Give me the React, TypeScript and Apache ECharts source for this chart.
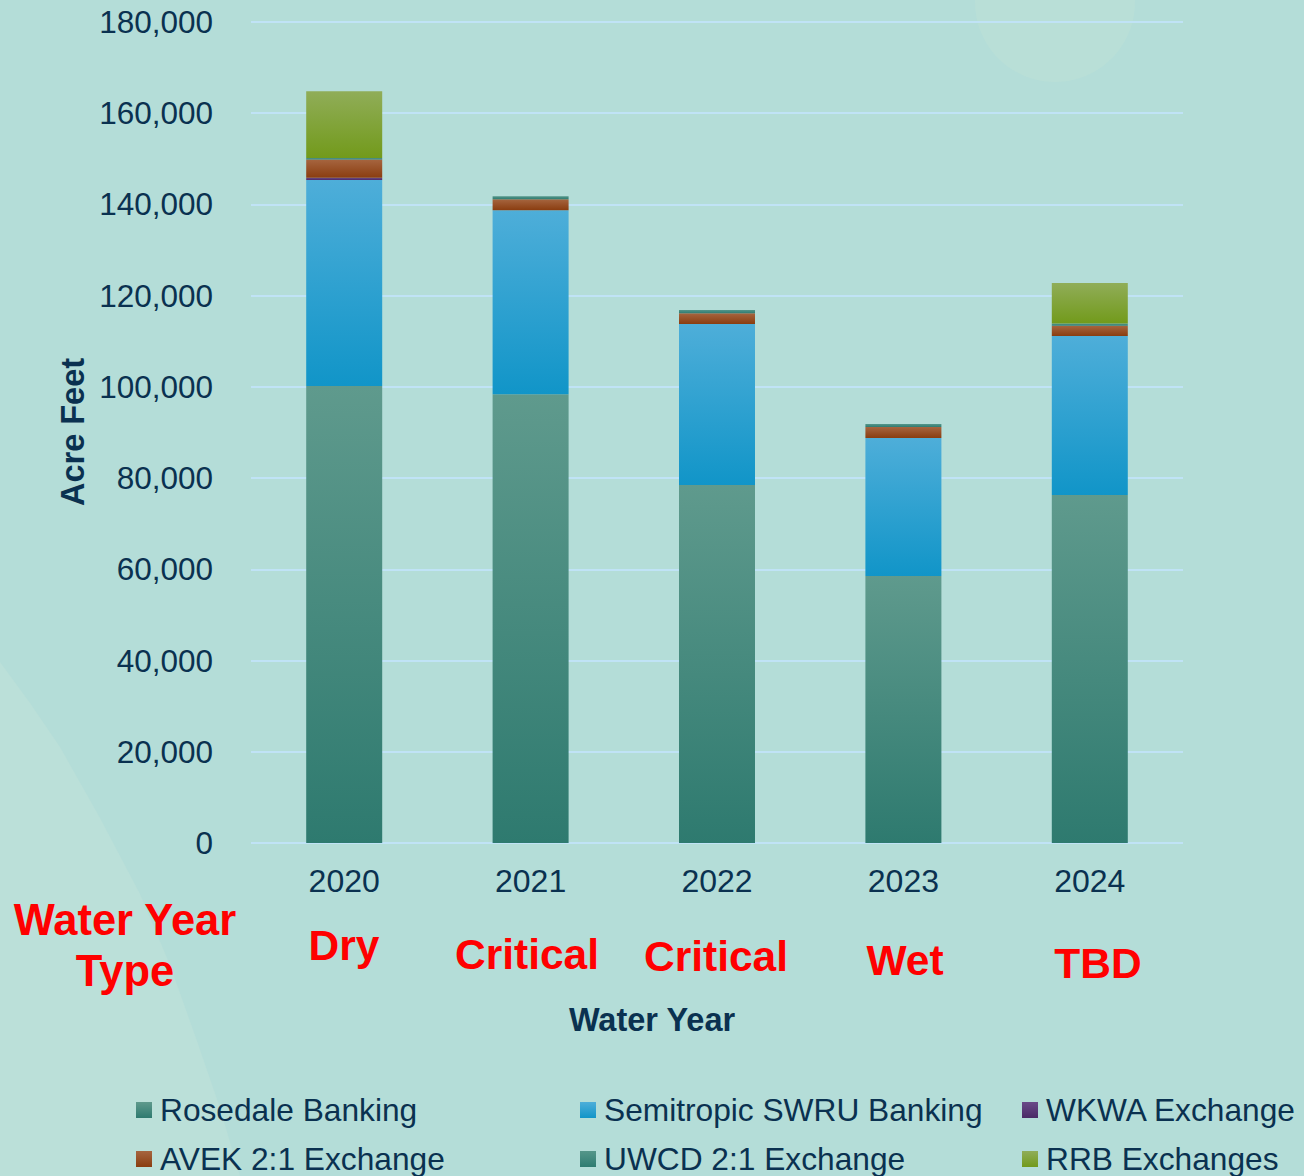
import React, { useEffect, useRef } from "react";
import * as echarts from "echarts";

// ---- Data ----
const categories = ["2020", "2021", "2022", "2023", "2024"];
const waterYearTypes = ["Dry", "Critical", "Critical", "Wet", "TBD"];
const rosedaleBanking = [100200, 98400, 78500, 58550, 76300];
const semitropicBanking = [45150, 40350, 35300, 30250, 34850];
const wkwaExchange = [500, 0, 0, 0, 0];
const avekExchange = [4000, 2400, 2350, 2400, 2250];
const uwcdExchange = [350, 650, 720, 650, 520];
const rrbExchanges = [14600, 0, 0, 0, 8850];
const seriesNames = [
  "Rosedale Banking",
  "Semitropic SWRU Banking",
  "WKWA Exchange",
  "AVEK 2:1 Exchange",
  "UWCD 2:1 Exchange",
  "RRB Exchanges",
];

// ---- Layout / style ----
const FONT = "'Liberation Sans', Arial, Helvetica, sans-serif";
const NAVY = "#0a3150";
const RED = "#ff0000";
const typeLabelPos = [
  [344, 945],
  [527, 954],
  [716, 956],
  [905, 960],
  [1098, 963.5],
];
const legendPos = [
  [136, 1094],
  [580, 1094],
  [1022, 1094],
  [136, 1143],
  [580, 1143],
  [1022, 1143],
];

const grad = (top: string, bottom: string) =>
  new echarts.graphic.LinearGradient(0, 0, 0, 1, [
    { offset: 0, color: top },
    { offset: 1, color: bottom },
  ]);

export default function App() {
  const ref = useRef<HTMLDivElement>(null);

  useEffect(() => {
    if (!ref.current) return;
    const chart = echarts.init(ref.current, undefined, { renderer: "svg" });

    const colors = [
      grad("#5f9a8d", "#2e7a6f"),
      grad("#4eaed9", "#1195c8"),
      grad("#6a4a88", "#4a2a66"),
      grad("#a6653f", "#8a3d10"),
      grad("#55968a", "#2f7c71"),
      grad("#90ad58", "#729a1b"),
    ];
    const values = [
      rosedaleBanking,
      semitropicBanking,
      wkwaExchange,
      avekExchange,
      uwcdExchange,
      rrbExchanges,
    ];

    const series = seriesNames.map((name, i) => ({
      name,
      type: "bar",
      stack: "total",
      barWidth: 76,
      data: values[i],
      itemStyle: { color: colors[i] },
      emphasis: { disabled: true },
    }));

    const legends = seriesNames.map((name, i) => ({
      data: [name],
      left: legendPos[i][0],
      top: legendPos[i][1],
      padding: 0,
      itemWidth: 16,
      itemHeight: 16,
      icon: "rect",
      selectedMode: false,
      textStyle: {
        fontFamily: FONT,
        fontSize: 31.7,
        color: NAVY,
        padding: [0, 0, 0, 3],
      },
    }));

    const graphic: any[] = [
      {
        type: "circle",
        shape: { cx: 1055, cy: 2, r: 80 },
        style: { fill: "#b9dfd7" },
        z: -100,
        silent: true,
      },
      {
        type: "polygon",
        shape: {
          points: [
            [0, 662],
            [30, 703],
            [60, 747],
            [100, 818],
            [140, 894],
            [170, 965],
            [197, 1041],
            [220, 1108],
            [240, 1176],
            [0, 1176],
          ],
        },
        style: { fill: "#bbe0d9" },
        z: -100,
        silent: true,
      },
      {
        type: "text",
        x: 73,
        y: 432,
        rotation: Math.PI / 2,
        style: {
          text: "Acre Feet",
          fontFamily: FONT,
          fontWeight: "bold",
          fontSize: 32.5,
          fill: NAVY,
          align: "center",
          verticalAlign: "middle",
        },
        z: 100,
      },
      {
        type: "text",
        x: 652,
        y: 1020,
        style: {
          text: "Water Year",
          fontFamily: FONT,
          fontWeight: "bold",
          fontSize: 32.5,
          fill: NAVY,
          align: "center",
          verticalAlign: "middle",
        },
        z: 100,
      },
      {
        type: "text",
        x: 125,
        y: 945.5,
        style: {
          text: "Water Year\nType",
          fontFamily: FONT,
          fontWeight: "bold",
          fontSize: 43.5,
          lineHeight: 51,
          fill: RED,
          align: "center",
          verticalAlign: "middle",
        },
        z: 100,
      },
      ...waterYearTypes.map((t, i) => ({
        type: "text",
        x: typeLabelPos[i][0],
        y: typeLabelPos[i][1],
        style: {
          text: t,
          fontFamily: FONT,
          fontWeight: "bold",
          fontSize: 42.5,
          fill: RED,
          align: "center",
          verticalAlign: "middle",
        },
        z: 100,
      })),
    ];

    chart.setOption({
      animation: false,
      backgroundColor: "#b4ddd8",
      textStyle: { fontFamily: FONT },
      grid: { left: 251, right: 121, top: 22, bottom: 333, containLabel: false },
      xAxis: {
        type: "category",
        data: categories,
        axisLine: { show: false },
        axisTick: { show: false },
        axisLabel: {
          fontFamily: FONT,
          fontSize: 32,
          color: NAVY,
          margin: 22,
        },
      },
      yAxis: {
        type: "value",
        min: 0,
        max: 180000,
        interval: 20000,
        axisLine: { show: false },
        axisTick: { show: false },
        axisLabel: {
          fontFamily: FONT,
          fontSize: 31.5,
          color: NAVY,
          margin: 38,
          formatter: (v: number) => v.toLocaleString("en-US"),
        },
        splitLine: { lineStyle: { color: "#c0e3f6", width: 2 } },
      },
      legend: legends,
      series,
      graphic,
    });

    return () => chart.dispose();
  }, []);

  return (
    <div
      ref={ref}
      style={{ position: "fixed", left: 0, top: 0, width: 1304, height: 1176 }}
    />
  );
}
